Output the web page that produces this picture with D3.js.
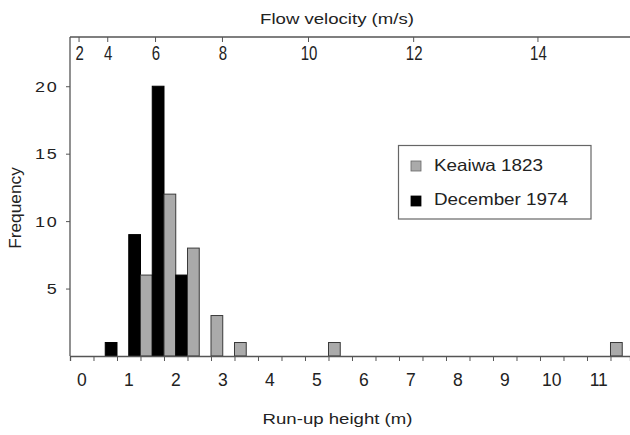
<!DOCTYPE html>
<html><head><meta charset="utf-8">
<script src="https://cdn.jsdelivr.net/npm/d3@7"></script>
<style>
html,body{margin:0;padding:0;background:#fff;}
text{font-family:"Liberation Sans",Arial,sans-serif;fill:#222;}
</style></head>
<body><svg id="c" width="630" height="435"></svg>
<script>
// Bin centres in run-up height (m); each bin is 0.5 m wide
const binCentres = [0.5, 1.0, 1.5, 2.0, 2.5, 3.0, 3.5, 5.5, 11.5];
const keaiwa1823 = [0, 0, 6, 12, 8, 3, 1, 1, 1];
const december1974 = [1, 9, 20, 6, 0, 0, 0, 0, 0];
const seriesNames = ["Keaiwa 1823", "December 1974"];
const seriesColors = ["#aaaaaa", "#000000"];
const heightLabels = [0,1,2,3,4,5,6,7,8,9,10,11];
const heightTicks = d3.range(0.25, 11.3, 0.5);
const velocityTicks = [2,4,6,8,10,12,14];
const freqTicks = [5,10,15,20];

const svg = d3.select("#c");
const L = 70, R = 630, T = 37, B = 356;
const x = d3.scaleLinear().domain([-0.25, 11.665]).range([L, R]);
const y = d3.scaleLinear().domain([0, 23.65]).range([B, T]);
const xv = d3.scalePow().exponent(2).domain([0, 16]).range([69, 69 + 2.39*256]);
const axisColor = "#555";

// helper for stretched real text
function stext(parent, tx, ty, sx, sy, size, anchor, str) {
  return parent.append("text")
    .attr("transform", `translate(${tx},${ty}) scale(${sx},${sy})`)
    .attr("text-anchor", anchor).style("font-size", size + "px").text(str);
}

// bars
const g = svg.append("g");
const bw = x(0.25) - x(0);
binCentres.forEach((c, i) => {
  if (keaiwa1823[i] > 0) g.append("rect").attr("x", x(c - 0.25)).attr("y", y(keaiwa1823[i]))
     .attr("width", bw).attr("height", y(0) - y(keaiwa1823[i]))
     .attr("fill", seriesColors[0]).attr("stroke", "#3a3a3a").attr("stroke-width", 1);
  if (december1974[i] > 0) g.append("rect").attr("x", x(c)).attr("y", y(december1974[i]))
     .attr("width", bw).attr("height", y(0) - y(december1974[i]))
     .attr("fill", seriesColors[1]).attr("stroke", "#000").attr("stroke-width", 1);
});

// bottom axis
const bx = svg.append("g").attr("transform", `translate(0,${B})`)
  .call(d3.axisBottom(x).tickValues(heightTicks).tickSize(5).tickFormat(""));
bx.select(".domain").attr("stroke", axisColor).attr("stroke-width", 1.3);
bx.selectAll(".tick line").attr("stroke", axisColor);
const bl = svg.append("g");
heightLabels.forEach(d => stext(bl, x(d), 386, 1, 1, 17.5, "middle", d));

// left axis
const ly = svg.append("g").attr("transform", `translate(${L},0)`)
  .call(d3.axisLeft(y).tickValues(freqTicks).tickSize(4).tickFormat(""));
ly.select(".domain").attr("stroke", axisColor).attr("stroke-width", 1.3)
  .attr("d", `M0,${T}V${B}`);
ly.selectAll(".tick line").attr("stroke", axisColor);
const yl = svg.append("g");
freqTicks.forEach(d => stext(yl, 58.5, y(d) + 5.7, 1.2, 1, 15, "end", d).style("letter-spacing", "1.5px"));

// top axis
const tx = svg.append("g").attr("transform", `translate(0,${T})`)
  .call(d3.axisBottom(xv).tickValues(velocityTicks).tickSize(5).tickFormat(""));
tx.select(".domain").attr("stroke", axisColor).attr("stroke-width", 1.3)
  .attr("d", `M${L},0H${R}`);
tx.selectAll(".tick line").attr("stroke", axisColor);
const tl = svg.append("g");
velocityTicks.forEach(d => stext(tl, xv(d) + 1, 60, 1, 1.35, 15, "middle", d));

// titles
stext(svg, 337, 23.5, 1.2, 1, 15.5, "middle", "Flow velocity (m/s)");
stext(svg, 337.5, 424, 1.2, 1, 15.5, "middle", "Run-up height (m)");
svg.append("text").attr("transform", "translate(21,208) rotate(-90) scale(1.08,1)")
  .attr("text-anchor", "middle").style("font-size", "16px").text("Frequency");

// legend
const lg = svg.append("g");
lg.append("rect").attr("x", 398.5).attr("y", 145.5).attr("width", 192.5).attr("height", 73.5)
  .attr("fill", "#fff").attr("stroke", "#666").attr("stroke-width", 1.2);
const legW = [109, 134];
seriesNames.forEach((n, i) => {
  const top = 161 + i * 35;
  lg.append("rect").attr("x", 411).attr("y", top).attr("width", 10).attr("height", 10)
    .attr("fill", seriesColors[i]).attr("stroke", i ? "#000" : "#666").attr("stroke-width", 0.8);
  lg.append("text").attr("x", 434).attr("y", top + 9.5 + i * -0.5)
    .attr("textLength", legW[i]).attr("lengthAdjust", "spacingAndGlyphs")
    .style("font-size", "16.5px").text(n);
});
</script></body></html>
